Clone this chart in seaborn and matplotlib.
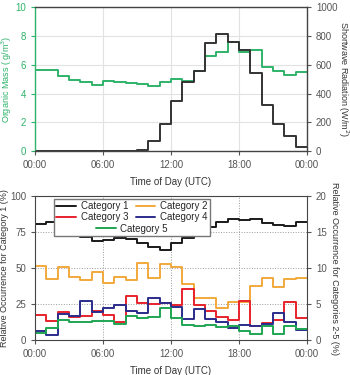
import pandas as pd
import matplotlib
matplotlib.use("Agg")
import matplotlib.pyplot as plt
from matplotlib.lines import Line2D
import seaborn as sns

# --- Data (hourly bins, 00:00 - 24:00 UTC) ---
hours = list(range(24))
tick_hours = [0, 6, 12, 18, 24]
tick_labels = ["00:00", "06:00", "12:00", "18:00", "00:00"]

organic_mass = [5.6, 5.6, 5.25, 4.95, 4.8, 4.6, 4.9, 4.8, 4.75, 4.65, 4.55, 4.8,
                5.0, 4.9, 5.55, 6.6, 6.85, 7.55, 6.85, 7.0, 5.85, 5.55, 5.3, 5.5]
shortwave = [0, 0, 0, 0, 0, 0, 0, 0, 0, 8, 72, 186,
             348, 483, 557, 750, 815, 760, 704, 546, 320, 186, 107, 30]

cat1 = [80.5, 82.2, 75.3, 74.1, 71.2, 68.8, 69.4, 70.6, 70.4, 67.2, 64.6, 62.5,
        67.6, 70.6, 73.4, 78.2, 82.2, 84.3, 83.6, 84.0, 81.0, 79.9, 79.2, 82.0]
cat2 = [10.3, 8.5, 10.1, 8.8, 8.4, 9.4, 7.9, 8.8, 8.4, 10.7, 8.6, 10.5,
        10.1, 7.8, 5.9, 5.9, 4.5, 5.3, 5.3, 7.5, 8.6, 7.4, 8.5, 8.6]
cat3 = [3.5, 2.7, 3.9, 3.25, 3.4, 4.0, 3.5, 2.55, 6.15, 5.2, 5.0, 5.2,
        4.8, 7.1, 4.9, 4.0, 3.2, 2.8, 5.4, 1.9, 2.4, 2.8, 5.3, 3.0]
cat4 = [1.3, 0.75, 3.6, 3.4, 5.45, 3.9, 4.4, 4.8, 4.0, 3.8, 5.8, 5.1,
        4.6, 2.9, 4.3, 2.9, 2.5, 1.6, 2.1, 2.0, 2.2, 3.8, 2.5, 1.4]
cat5 = [1.0, 1.65, 2.8, 2.5, 2.55, 2.6, 2.7, 2.2, 3.3, 3.0, 3.2, 4.4,
        3.0, 2.1, 2.0, 2.1, 1.8, 1.9, 1.3, 0.8, 1.9, 0.8, 1.9, 1.5]

GREEN = "#2eb36a"
DARK = "#333333"
GRAY = "#555555"
colors = {"Category 1": "#1a1a1a", "Category 2": "#f2a93b", "Category 3": "#e8222b",
          "Category 4": "#2b2c8c", "Category 5": "#1ea552"}

sns.set_style("ticks")
plt.rcParams["font.family"] = ["Liberation Sans", "DejaVu Sans"]


def steps(values):
    # repeat the last bin so the final hour is drawn as a full step
    return pd.DataFrame({"hour": hours + [24], "value": list(values) + [values[-1]]})


def draw_step(ax, values, color, label=None):
    sns.lineplot(data=steps(values), x="hour", y="value", drawstyle="steps-post",
                 color=color, lw=1.4, ax=ax, label=label, legend=False)


def style_time_axis(ax):
    ax.set_xlim(0, 24)
    ax.set_xticks(tick_hours)
    ax.set_xticklabels(tick_labels)
    ax.set_xlabel("Time of Day (UTC)", fontsize=7, color=DARK, labelpad=5)
    ax.tick_params(axis="x", labelsize=7, colors=GRAY, length=3, direction="out")


fig = plt.figure(figsize=(3.5, 3.75), dpi=100)

# --- Top panel: organic mass vs shortwave radiation ---
ax1 = fig.add_axes([0.1, 0.597, 0.777, 0.384])
draw_step(ax1, organic_mass, GREEN)
ax1.set_ylim(0, 10)
ax1.set_yticks([0, 2, 4, 6, 8, 10])
ax1.set_ylabel("Organic Mass ( g/m$^3$)", fontsize=6.5, color=GREEN)
ax1.yaxis.set_label_coords(-0.078, 0.5)
ax1.tick_params(axis="y", labelsize=7, colors=GREEN, length=3)
ax1.grid(True, color="#e2e2e2", lw=0.8)
style_time_axis(ax1)

ax2 = ax1.twinx()
draw_step(ax2, shortwave, DARK)
ax2.set_ylim(0, 1000)
ax2.set_yticks([0, 200, 400, 600, 800, 1000])
ax2.set_ylabel("Shortwave Radiation (W/m$^2$)", fontsize=6.5, color=DARK,
               rotation=270, labelpad=9)
ax2.tick_params(axis="y", labelsize=7, colors=GRAY, length=3)
ax2.set_xlim(0, 24)

for name, sp in ax2.spines.items():
    sp.set_color(GREEN if name == "left" else "#444444")
    sp.set_linewidth(1.0)
for sp in ax1.spines.values():
    sp.set_visible(False)

# --- Bottom panel: relative occurrence of categories ---
ax3 = fig.add_axes([0.1, 0.0933, 0.777, 0.384])
draw_step(ax3, cat1, colors["Category 1"], "Category 1")
ax3.set_ylim(0, 100)
ax3.set_yticks([0, 25, 50, 75, 100])
ax3.set_ylabel("Relative Occurrence for Category 1 (%)", fontsize=6.5, color=DARK)
ax3.yaxis.set_label_coords(-0.095, 0.5)
ax3.tick_params(axis="y", labelsize=7, colors=GRAY, length=3)
ax3.grid(True, color="#9a9a9a", ls=":", lw=0.7)
style_time_axis(ax3)

ax4 = ax3.twinx()
for name, vals in zip(["Category 2", "Category 3", "Category 4", "Category 5"],
                      [cat2, cat3, cat4, cat5]):
    draw_step(ax4, vals, colors[name], name)
ax4.set_ylim(0, 20)
ax4.set_yticks([0, 5, 10, 15, 20])
ax4.set_ylabel("Relative Occurrence for Categories 2-5 (%)", fontsize=6.5, color=DARK,
               rotation=270, labelpad=9)
ax4.tick_params(axis="y", labelsize=7, colors=GRAY, length=3)
ax4.set_xlim(0, 24)
for sp in ax4.spines.values():
    sp.set_color("#444444")
for sp in ax3.spines.values():
    sp.set_visible(False)

# legend: two columns for categories 1-4, category 5 centred on a third row
h = {l.get_label(): l for l in ax3.get_lines() + ax4.get_lines()}
blank = Line2D([], [], color="none")
leg_kw = dict(fontsize=7, handlelength=2.0, handletextpad=0.5, labelspacing=0.1,
              borderpad=0.25, columnspacing=0.8)
leg = ax4.legend([h["Category 1"], h["Category 3"], blank, h["Category 2"], h["Category 4"], blank],
                 ["Category 1", "Category 3", " ", "Category 2", "Category 4", " "],
                 ncol=2, loc="upper center", bbox_to_anchor=(0.357, 1.015),
                 frameon=True, fancybox=False, edgecolor="#777777", framealpha=1, **leg_kw)
leg.get_frame().set_linewidth(1.0)
ax4.add_artist(leg)

# place the category 5 entry on the empty third row of the first legend
fig.canvas.draw()
bb = leg.get_window_extent().transformed(ax4.transAxes.inverted())
row_h = (bb.y1 - bb.y0) / 3.0
ax4.legend([h["Category 5"]], ["Category 5"], loc="center",
           bbox_to_anchor=(0.5 * (bb.x0 + bb.x1), bb.y0 + 0.55 * row_h),
           frameon=False, borderpad=0, borderaxespad=0,
           **{k: v for k, v in leg_kw.items() if k != "borderpad"})

fig.savefig("out.png", dpi=100)
